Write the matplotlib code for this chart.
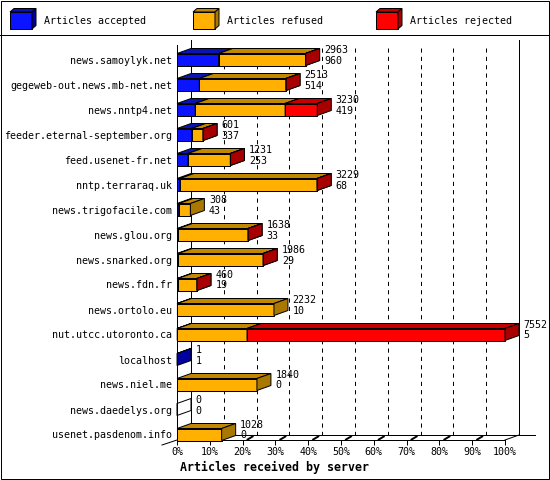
import matplotlib
matplotlib.use("Agg")
import matplotlib.pyplot as plt
import numpy as np
from matplotlib.patches import Polygon, Rectangle

# ---------------- data ----------------
hosts = ["news.samoylyk.net", "gegeweb-out.news.mb-net.net", "news.nntp4.net",
         "feeder.eternal-september.org", "feed.usenet-fr.net", "nntp.terraraq.uk",
         "news.trigofacile.com", "news.glou.org", "news.snarked.org", "news.fdn.fr",
         "news.ortolo.eu", "nut.utcc.utoronto.ca", "localhost", "news.niel.me",
         "news.daedelys.org", "usenet.pasdenom.info"]
totals = np.array([2963, 2513, 3230, 601, 1231, 3229, 308, 1638, 1986, 460,
                   2232, 7552, 1, 1840, 0, 1028])
accepted = np.array([960, 514, 419, 337, 253, 68, 43, 33, 29, 19, 10, 5, 1, 0, 0, 0])
rejected = np.array([4, 6, 741, 2, 3, 5, 0, 2, 3, 1, 0, 5940, 0, 0, 0, 0])
refused = totals - accepted - rejected
series_labels = ["Articles accepted", "Articles refused", "Articles rejected"]
tick_values = [0, 10, 20, 30, 40, 50, 60, 70, 80, 90, 100]
tick_labels = ["0%", "10%", "20%", "30%", "40%", "50%", "60%", "70%", "80%", "90%", "100%"]
xlabel = "Articles received by server"

# ---------------- style ----------------
front_c = ["#0a14ff", "#ffb000", "#ff0000"]
top_c = ["#0a14b4", "#c08800", "#c40000"]
side_c = ["#0000a0", "#a87800", "#a80000"]
MONO = "DejaVu Sans Mono"
FS = 7.2
LW = 0.72
plt.rcParams["lines.scale_dashes"] = False

W, H = 550, 480
fig = plt.figure(figsize=(5.5, 4.8), dpi=100)

# background / decoration layer in pixel units
bg = fig.add_axes([0, 0, 1, 1])
bg.set_xlim(0, W)
bg.set_ylim(H, 0)
bg.axis("off")
bg.add_patch(Rectangle((0.5, 0.5), W - 1.5, H - 1.5, fill=False, ec="black", lw=LW))
bg.plot([0, W], [35, 35], color="black", lw=LW)

# legend cubes
leg_x = [10, 193, 376]
for k in range(3):
    x0, y0, w, h, dx, dy = leg_x[k], 12, 22, 17, 4, 3.5
    bg.add_patch(Rectangle((x0, y0), w, h, fc=front_c[k], ec="black", lw=LW))
    bg.add_patch(Polygon([(x0, y0), (x0 + w, y0), (x0 + w + dx, y0 - dy), (x0 + dx, y0 - dy)],
                         closed=True, fc=top_c[k], ec="black", lw=LW))
    bg.add_patch(Polygon([(x0 + w, y0), (x0 + w, y0 + h), (x0 + w + dx, y0 + h - dy), (x0 + w + dx, y0 - dy)],
                         closed=True, fc=side_c[k], ec="black", lw=LW))
    bg.text(x0 + 34, 20.5, series_labels[k], ha="left", va="center", fontsize=FS, family=MONO)

bg.text(275, 467, xlabel, ha="center", va="center", fontsize=8.4, family=MONO, fontweight="bold")

# ---------------- main axes (front plane) ----------------
ax = fig.add_axes([177 / W, (H - 440) / H, 328 / W, 395 / H])
ax.patch.set_alpha(0)
ax.set_xlim(0, 100)
ax.set_ylim(15.22, -0.58)
for s in ["top", "right"]:
    ax.spines[s].set_visible(False)
for s in ["left", "bottom"]:
    ax.spines[s].set_linewidth(LW)
    ax.spines[s].set_zorder(2)

px_x = 328 / 100.0   # pixels per percent
px_y = 25.0          # pixels per row
dxd = 14 / px_x
dyd = -5 / px_y
ytop_front, ybot_front = -0.58, 15.22
ytop_back, ybot_back = ytop_front + dyd, ybot_front + dyd

# back wall
ax.plot([dxd, dxd], [ytop_back, ybot_back], color="black", lw=LW, clip_on=False, zorder=1)
ax.plot([100 + dxd, 100 + dxd], [ytop_back, ybot_back], color="black", lw=LW, clip_on=False, zorder=1)
for t in tick_values[1:-1]:
    ax.plot([t + dxd, t + dxd], [ytop_back + 0.3, ybot_back], color="black", lw=LW,
            dashes=(3, 3), clip_on=False, zorder=1)
# floor
ax.plot([dxd, 100 + dxd + 16 / px_x], [ybot_back, ybot_back], color="black", lw=LW, clip_on=False, zorder=1)
ax.plot([100, 100 + dxd], [ybot_front, ybot_back], color="black", lw=LW, clip_on=False, zorder=1)
ax.plot([-15 / px_x, 0], [ybot_front + 5 / px_y, ybot_front], color="black", lw=LW, clip_on=False, zorder=1)
for t in tick_values[1:-1]:
    ax.plot([t + 5 / px_x, t + 10 / px_x], [ybot_front - 0.5 / px_y, ybot_front - 3.5 / px_y],
            color="black", lw=1.4, clip_on=False, zorder=1)

# bars
y = np.arange(len(hosts))
scale = 100.0 / totals.max()
hh = 0.24
left = np.zeros(len(hosts))
for k, vals in enumerate([accepted, refused, rejected]):
    w = vals * scale
    m = vals > 0
    ax.barh(y[m], w[m], left=left[m], height=2 * hh, color=front_c[k], edgecolor="black",
            lw=LW, zorder=3 + k, clip_on=False)
    for i in np.where(m)[0]:
        s, e, c = left[i], left[i] + w[i], y[i]
        ax.add_patch(Polygon([(s, c - hh), (e, c - hh), (e + dxd, c - hh + dyd), (s + dxd, c - hh + dyd)],
                             closed=True, fc=top_c[k], ec="black", lw=LW, zorder=3 + k, clip_on=False))
        ax.add_patch(Polygon([(e, c - hh), (e, c + hh), (e + dxd, c + hh + dyd), (e + dxd, c - hh + dyd)],
                             closed=True, fc=side_c[k], ec="black", lw=LW, zorder=3 + k, clip_on=False))
    left = left + w

# empty rows: outline only
for i in np.where(totals == 0)[0]:
    c = y[i]
    ax.add_patch(Polygon([(0, c - hh), (0, c + hh), (dxd, c + hh + dyd), (dxd, c - hh + dyd)],
                         closed=True, fill=False, ec="black", lw=LW, zorder=3, clip_on=False))

# value labels
for i in range(len(hosts)):
    xe = totals[i] * scale + 18.5 / px_x
    ax.text(xe, y[i] - 9.5 / px_y, str(totals[i]), ha="left", va="center", fontsize=FS,
            family=MONO, zorder=10, clip_on=False)
    ax.text(xe, y[i] + 1.0 / px_y, str(accepted[i]), ha="left", va="center", fontsize=FS,
            family=MONO, zorder=10, clip_on=False)

ax.set_xticks(tick_values)
ax.set_xticklabels(tick_labels, family=MONO, fontsize=FS)
ax.set_yticks(y)
ax.set_yticklabels(hosts, family=MONO, fontsize=FS)
ax.tick_params(axis="x", direction="out", length=3.6, width=LW, pad=1.5)
ax.tick_params(axis="y", length=0, pad=3.6)

fig.savefig("out.png", dpi=100)
